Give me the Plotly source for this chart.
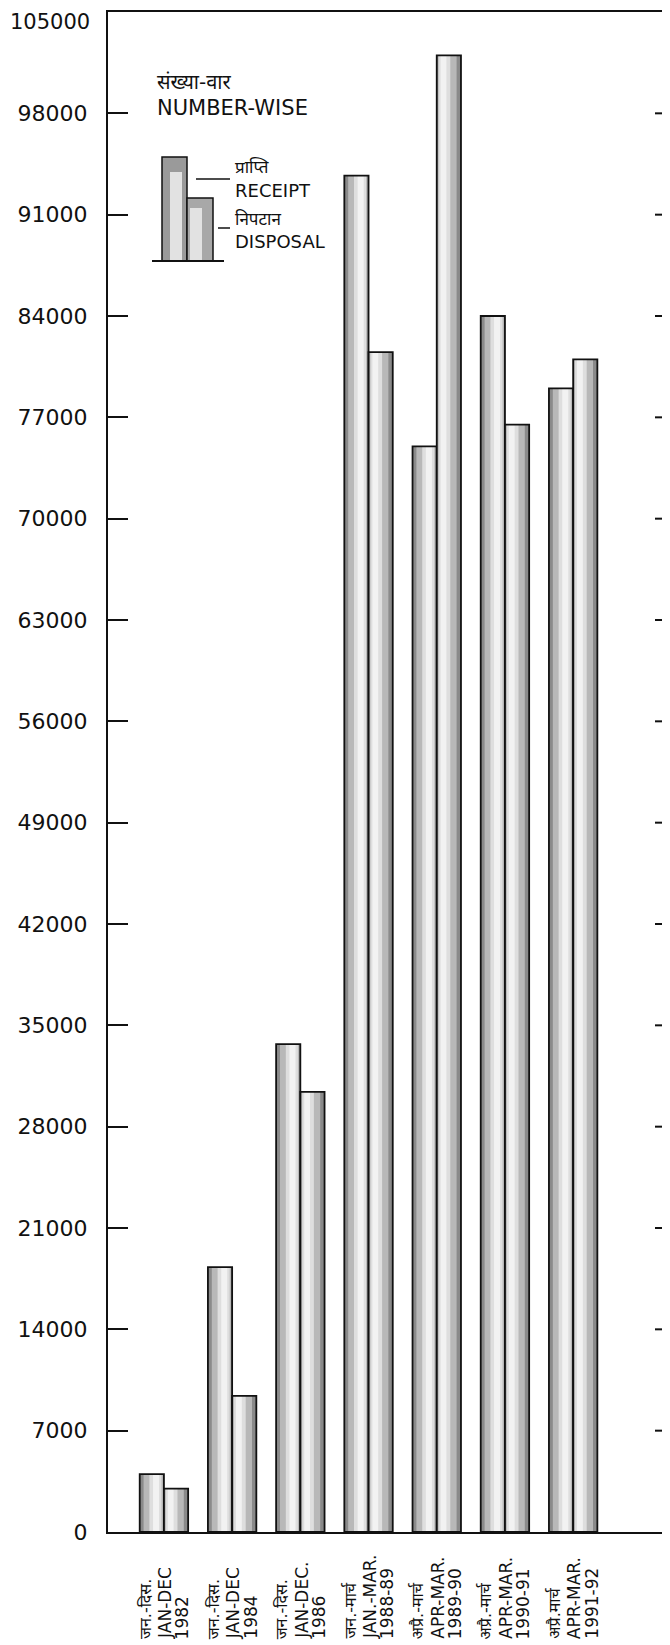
import plotly.graph_objects as go

# ---------------- data ----------------
categories = ["1982", "1984", "1986", "1988-89", "1989-90", "1990-91", "1991-92"]
label_hindi = ["जन.-दिस.", "जन.-दिस.", "जन.-दिस.", "जन.-मार्च", "अप्रै.-मार्च", "अप्रै.-मार्च", "अप्रै.मार्च"]
label_eng = ["JAN-DEC", "JAN-DEC", "JAN-DEC.", "JAN.-MAR.", "APR-MAR.", "APR-MAR.", "APR-MAR."]
label_year = ["1982", "1984", "1986", "1988-89", "1989-90", "1990-91", "1991-92"]
receipt = [4000, 18300, 33700, 93700, 75000, 84000, 79000]
disposal = [3000, 9400, 30400, 81500, 102000, 76500, 81000]
y_ticks = list(range(0, 105001, 7000))

FONT = "DejaVu Sans, Noto Sans, Noto Sans Devanagari, sans-serif"

W = 0.355  # bar width (category units)

fig = go.Figure()


def add_shaded(values, side, name):
    base_off = -W if side == -1 else 0.0
    if side == -1:
        layers = [(0.0, 1.0, "#8a8a8a"), (0.16, 0.80, "#b8b8b8"), (0.40, 0.50, "#dedede"), (0.55, 0.25, "#f2f2f2")]
    else:
        layers = [(0.0, 1.0, "#8a8a8a"), (0.04, 0.78, "#b8b8b8"), (0.08, 0.48, "#dedede"), (0.16, 0.24, "#f2f2f2")]
    for off, wid, col in layers:
        fig.add_trace(go.Bar(
            x=categories, y=values, name=name, showlegend=False,
            offset=base_off + off * W, width=wid * W,
            marker=dict(color=col, line=dict(width=0)),
            hoverinfo="skip",
        ))
    fig.add_trace(go.Bar(
        x=categories, y=values, name=name, showlegend=False,
        offset=base_off, width=W,
        marker=dict(color="rgba(0,0,0,0)", line=dict(color="#111111", width=1.8)),
    ))


add_shaded(receipt, -1, "RECEIPT")
add_shaded(disposal, 0, "DISPOSAL")

# ---------------- layout (the page body adds an 8px margin) ----------------
OFF = 8
FIG_W, FIG_H = 670 - OFF, 1645 - OFF
L, R, T, B = 108 - OFF, 670 - OFF, 12 - OFF, 1532 - OFF


def px(x):  # page x -> paper
    return (x - OFF - L) / (R - L)


def py(y):  # page y -> paper
    return (B - (y - OFF)) / (B - T)


shapes = []
# right-hand tick marks
for v in y_ticks[1:-1]:
    shapes.append(dict(type="line", xref="paper", yref="y", x0=1 - 15 / (R - L), x1=1, y0=v, y1=v,
                       line=dict(color="#111", width=2)))
# legend icon
shapes.append(dict(type="rect", xref="paper", yref="paper", x0=px(162), x1=px(187), y0=py(261), y1=py(157),
                   fillcolor="#9a9a9a", line=dict(color="#111", width=1.5)))
shapes.append(dict(type="rect", xref="paper", yref="paper", x0=px(170), x1=px(182), y0=py(261), y1=py(172),
                   fillcolor="#e2e2e2", line=dict(width=0)))
shapes.append(dict(type="rect", xref="paper", yref="paper", x0=px(187), x1=px(213), y0=py(261), y1=py(198),
                   fillcolor="#a8a8a8", line=dict(color="#111", width=1.5)))
shapes.append(dict(type="rect", xref="paper", yref="paper", x0=px(190), x1=px(202), y0=py(261), y1=py(208),
                   fillcolor="#e2e2e2", line=dict(width=0)))
shapes.append(dict(type="line", xref="paper", yref="paper", x0=px(152), x1=px(224), y0=py(261), y1=py(261),
                   line=dict(color="#111", width=2)))
shapes.append(dict(type="line", xref="paper", yref="paper", x0=px(196), x1=px(230), y0=py(179), y1=py(179),
                   line=dict(color="#111", width=1.5)))
shapes.append(dict(type="line", xref="paper", yref="paper", x0=px(218), x1=px(230), y0=py(228), y1=py(228),
                   line=dict(color="#111", width=1.5)))

annotations = []


def ann(text, x, y, size, xanchor="left", yanchor="middle"):
    annotations.append(dict(text=text, xref="paper", yref="paper", x=px(x), y=py(y),
                            xanchor=xanchor, yanchor=yanchor, showarrow=False,
                            font=dict(family=FONT, size=size, color="#111")))


# top tick label sits just below the frame line in the original (kept inside the page)
ann(str(y_ticks[-1]), 92, OFF, 21, xanchor="right", yanchor="top")

ann("संख्या-वार", 155, 82, 20)
ann("NUMBER-WISE", 155, 108, 21)
ann("प्राप्ति", 233, 167, 17)
ann("RECEIPT", 233, 191, 18)
ann("निपटान", 233, 219, 17)
ann("DISPOSAL", 233, 241, 18)

# category labels (rotated, three lines each, start-aligned at the bottom)
for i, (h, e, yr) in enumerate(zip(label_hindi, label_eng, label_year)):
    for text, shift, size in ((h, -19, 16), (e, 1, 17), (yr, 18, 17)):
        annotations.append(dict(text=text, xref="x", yref="paper", x=i, y=py(1641),
                                xshift=shift, xanchor="center", yanchor="bottom",
                                textangle=-90, showarrow=False,
                                font=dict(family=FONT, size=size, color="#111")))

fig.update_layout(
    width=FIG_W, height=FIG_H,
    margin=dict(l=L, r=FIG_W - R, t=T, b=FIG_H - B, pad=0),
    paper_bgcolor="white", plot_bgcolor="white",
    barmode="overlay",
    showlegend=False,
    shapes=shapes,
    annotations=annotations,
    font=dict(family=FONT, color="#111"),
    xaxis=dict(
        type="category", range=[-0.82, 7.42],
        showline=True, mirror=True, linecolor="#111", linewidth=2,
        ticks="", showticklabels=False,
        showgrid=False, zeroline=False,
    ),
    yaxis=dict(
        range=[0, 105000], tickvals=y_ticks,
        ticktext=[str(v) for v in y_ticks[:-1]] + [""],
        ticks="inside", ticklen=20, tickwidth=2, tickcolor="#111",
        showline=True, linecolor="#111", linewidth=2,
        tickfont=dict(family=FONT, size=22, color="#111"), ticklabelstandoff=14,
        showgrid=False, zeroline=False,
    ),
)

fig.write_html("out.html")
